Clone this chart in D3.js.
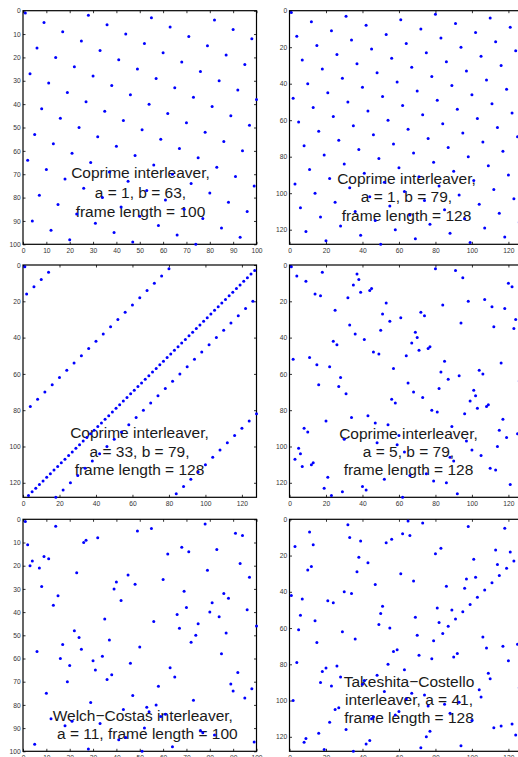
<!DOCTYPE html>
<html><head><meta charset="utf-8">
<script src="https://cdn.jsdelivr.net/npm/d3@7"></script>
<style>
html,body{margin:0;padding:0;background:#fff;overflow:hidden;}
svg{display:block;}
</style></head>
<body>
<script>
// ---------------- data ----------------
// Panel 1: coprime interleaver a=1,b=63,N=100 : y value for frame index 1..100
const p1Y = [1,64,27,90,53,16,79,42,5,68,31,94,57,20,83,46,9,72,35,98,61,24,87,50,13,76,39,2,65,28,91,54,17,80,43,6,69,32,95,58,21,84,47,10,73,36,99,62,25,88,51,14,77,40,3,66,29,92,55,18,81,44,7,70,33,96,59,22,85,48,11,74,37,100,63,26,89,52,15,78,41,4,67,30,93,56,19,82,45,8,71,34,97,60,23,86,49,12,75,38];
// Panel 2: coprime a=1,b=79,N=128 : x value for frame index 1..128 (y)
const p2X = [1,80,31,110,61,12,91,42,121,72,23,102,53,4,83,34,113,64,15,94,45,124,75,26,105,56,7,86,37,116,67,18,97,48,127,78,29,108,59,10,89,40,119,70,21,100,51,2,81,32,111,62,13,92,43,122,73,24,103,54,5,84,35,114,65,16,95,46,125,76,27,106,57,8,87,38,117,68,19,98,49,128,79,30,109,60,11,90,41,120,71,22,101,52,3,82,33,112,63,14,93,44,123,74,25,104,55,6,85,36,115,66,17,96,47,126,77,28,107,58,9,88,39,118,69,20,99,50];
// Panel 3: coprime a=33,b=79,N=128
const p3X = [1,80,127,14,125,76,123,10,121,72,119,6,117,68,115,2,113,64,111,126,109,60,107,122,105,56,103,118,101,52,99,114,97,48,95,110,93,44,91,106,89,40,87,102,85,36,83,98,81,32,79,94,77,28,75,90,73,24,71,86,69,20,67,82,65,16,63,78,61,12,59,74,57,8,55,70,53,4,51,66,49,128,47,62,45,124,43,58,41,120,39,54,37,116,35,50,33,112,31,46,29,108,27,42,25,104,23,38,21,100,19,34,17,96,15,30,13,92,11,26,9,88,7,22,5,84,3,18];
// Panel 4: coprime a=5,b=79,N=128
const p4X = [1,80,91,18,37,4,95,38,9,120,35,122,45,44,39,14,17,32,107,98,53,84,111,118,25,72,51,74,61,124,55,94,33,112,123,50,69,36,127,70,41,24,67,26,77,76,71,46,49,64,11,2,85,116,15,22,57,104,83,106,93,28,87,126,65,16,27,82,101,68,31,102,73,56,99,58,109,108,103,78,81,96,43,34,117,20,47,54,89,8,115,10,125,60,119,30,97,48,59,114,5,100,63,6,105,88,3,90,13,12,7,110,113,128,75,66,21,52,79,86,121,40,19,42,29,92,23,62];
// Panel 5: Welch-Costas a=11,N=100 : y value for frame index 1..100
const p5Y = [1,11,20,18,97,57,21,29,16,75,17,86,37,3,33,60,54,89,70,63,87,48,23,51,56,10,9,99,79,61,65,8,88,59,43,69,52,67,30,27,95,35,82,94,24,62,76,28,5,55,100,90,81,83,4,44,80,72,85,26,84,15,64,98,68,41,47,12,31,38,14,53,78,50,45,91,92,2,22,40,36,93,13,42,58,32,49,34,71,74,6,66,19,7,77,39,25,73,96,46];
// Panel 6: Takeshita-Costello a=41,N=128 : point pairs
const p6X = [1,42,124,119,27,104,94,125,69,54,80,19,127,20,82,57,73,2,100,111,35,128,6,53,13,14,56,11,7,44,122,113,17,90,76,103,43,24,46,109,85,102,32,3,15,68,34,41,89,50,52,95,51,48,86,37,29,62,8,123,23,92,74,97,33,10,28,87,59,72,126,93,101,22,112,115,31,116,114,25,105,98,4,79,67,96,38,21,45,110,88,107,39,12,26,81,49,58,108,71,75,120,78,77,117,70,64,99,47,36,66,9,121,18,84,63,83,16,118,5,61,30,40,91,55,60,106,65];
const p6Y = [42,124,119,27,104,94,125,69,54,80,19,127,20,82,57,73,2,100,111,35,128,6,53,13,14,56,11,7,44,122,113,17,90,76,103,43,24,46,109,85,102,32,3,15,68,34,41,89,50,52,95,51,48,86,37,29,62,8,123,23,92,74,97,33,10,28,87,59,72,126,93,101,22,112,115,31,116,114,25,105,98,4,79,67,96,38,21,45,110,88,107,39,12,26,81,49,58,108,71,75,120,78,77,117,70,64,99,47,36,66,9,121,18,84,63,83,16,118,5,61,30,40,91,55,60,106,65,1];

const ticks100 = [0,10,20,30,40,50,60,70,80,90,100];
const ticks128 = [0,20,40,60,80,100,120];

const labels1 = ["Coprime interleaver,", "a = 1, b = 63,", "frame length = 100"];
const labels2 = ["Coprime interleaver,", "a = 1, b = 79,", "frame length = 128"];
const labels3 = ["Coprime interleaver,", "a = 33, b = 79,", "frame length = 128"];
const labels4 = ["Coprime interleaver,", "a = 5, b = 79,", "frame length = 128"];
const labels5 = ["Welch\u2212Costas interleaver,", " a = 11, frame length = 100"];
const labels6 = ["Takeshita\u2212Costello", "interleaver, a = 41,", "frame length = 128"];

// ---------------- layout ----------------
const W = 518, H = 757;
const colX = [23, 289.5], PW = 233.5;
const rows = [{top: 10.7, h: 233.6}, {top: 265, h: 232.3}, {top: 519.3, h: 232}];

const panels = [
  {col:0,row:0,N:100,ticks:ticks100,pts:p1Y.map((v,i)=>[i+1,v]),lines:labels1,anchor:"middle",tx:140.5,ty:[178.3,197.5,216.5]},
  {col:1,row:0,N:128,ticks:ticks128,pts:p2X.map((v,i)=>[v,i+1]),lines:labels2,anchor:"middle",tx:406.5,ty:[184,202.3,220.7]},
  {col:0,row:1,N:128,ticks:ticks128,pts:p3X.map((v,i)=>[v,i+1]),lines:labels3,anchor:"middle",tx:139.5,ty:[438.3,456.7,474.7]},
  {col:1,row:1,N:128,ticks:ticks128,pts:p4X.map((v,i)=>[v,i+1]),lines:labels4,anchor:"middle",tx:408.5,ty:[439.3,457.3,475.3]},
  {col:0,row:2,N:100,ticks:ticks100,pts:p5Y.map((v,i)=>[i+1,v]),lines:labels5,anchor:"start",tx:52.7,ty:[721,739.3]},
  {col:1,row:2,N:128,ticks:ticks128,pts:p6X.map((v,i)=>[v,p6Y[i]]),lines:labels6,anchor:"middle",tx:409,ty:[686.7,704.5,722.5]}
];

const svg = d3.select("body").append("svg").attr("width", W).attr("height", H)
  .style("font-family", "'Liberation Sans', Arial, Helvetica, sans-serif");

const TICK = 2.5;
panels.forEach(p => {
  const x0 = colX[p.col], y0 = rows[p.row].top, h = rows[p.row].h;
  const x = d3.scaleLinear().domain([0, p.N]).range([x0, x0 + PW]);
  const y = d3.scaleLinear().domain([0, p.N]).range([y0, y0 + h]);
  const g = svg.append("g");

  // axes (MATLAB style, inward ticks on all sides)
  const style = sel => {
    sel.select(".domain").remove();
    sel.selectAll(".tick line").attr("stroke", "#000").attr("stroke-width", 0.8);
    sel.selectAll(".tick text").attr("fill", "#333").style("font-size", "6.7px")
      .style("font-family", "'Liberation Sans', Arial, Helvetica, sans-serif");
  };
  g.append("g").attr("transform", `translate(0,${y0 + h})`)
    .call(d3.axisBottom(x).tickValues(p.ticks).tickSize(-TICK).tickPadding(3.5)).call(style);
  g.append("g").attr("transform", `translate(${x0},0)`)
    .call(d3.axisLeft(y).tickValues(p.ticks).tickSize(-TICK).tickPadding(2.3)).call(style);
  g.append("g").attr("transform", `translate(0,${y0})`)
    .call(d3.axisTop(x).tickValues(p.ticks).tickSize(-TICK).tickFormat("")).call(style);
  g.append("g").attr("transform", `translate(${x0 + PW},0)`)
    .call(d3.axisRight(y).tickValues(p.ticks).tickSize(-TICK).tickFormat("")).call(style);

  g.append("rect").attr("x", x0).attr("y", y0).attr("width", PW).attr("height", h)
    .attr("fill", "none").attr("stroke", "#000").attr("stroke-width", 1.2);

  // annotation text
  const t = g.append("text").attr("text-anchor", p.anchor).attr("fill", "#1a1a1a")
    .style("font-size", "15.5px").attr("xml:space", "preserve").style("white-space", "pre");
  p.lines.forEach((s, i) => {
    t.append("tspan").attr("x", p.tx).attr("y", p.ty[i]).text(s);
  });

  // points
  g.append("g").selectAll("circle").data(p.pts).join("circle")
    .attr("cx", d => x(d[0])).attr("cy", d => y(d[1])).attr("r", 1.5)
    .attr("fill", "#0000ff");
});
</script>
</body></html>
